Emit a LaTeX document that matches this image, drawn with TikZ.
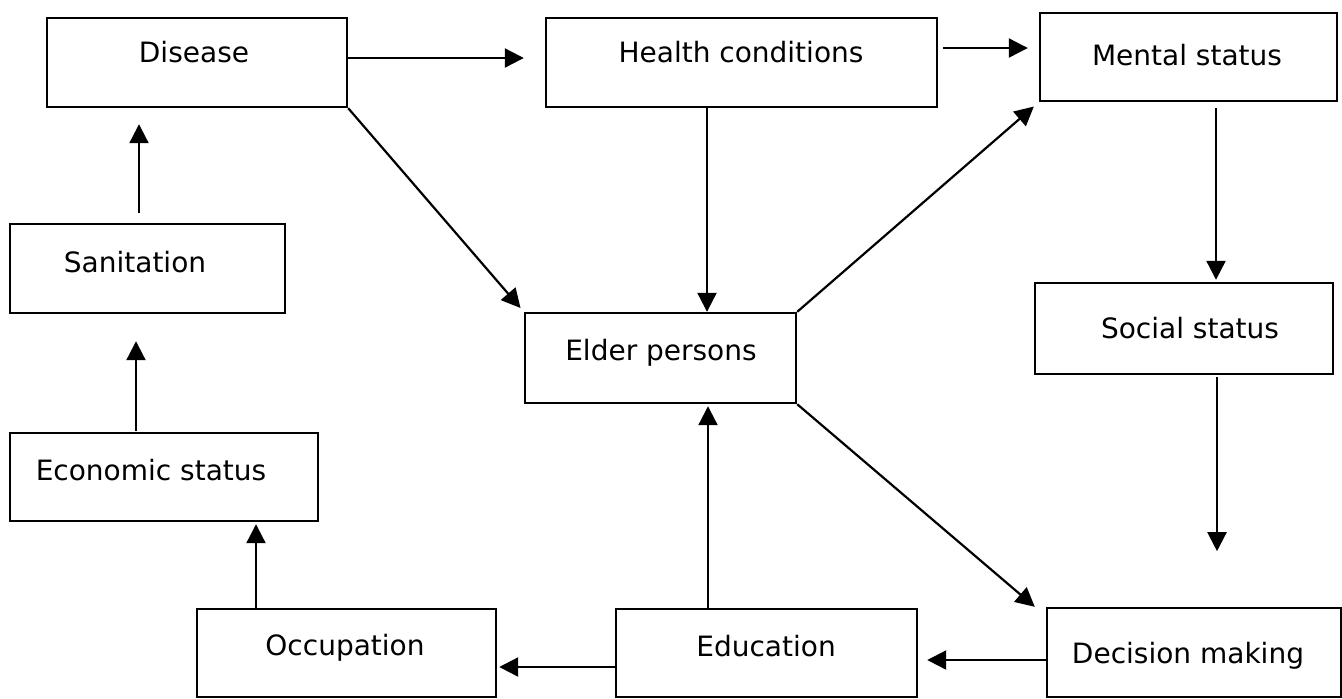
\documentclass[tikz,border=0pt]{standalone}
\usepackage{fontspec}
\setmainfont{DejaVu Sans}
\usetikzlibrary{arrows.meta,calc}
\begin{document}
\begin{tikzpicture}[x=0.5pt,y=-0.5pt,
  box/.style={draw=black,line width=1.2pt,rectangle,inner sep=0pt},
  lbl/.style={anchor=base,inner sep=0pt,font=\fontsize{14pt}{16pt}\selectfont},
  arr/.style={draw=black,line width=1.1pt,-{Triangle[length=9.5pt,width=9.5pt]}}]
\useasboundingbox (0,0) rectangle (1342,698);
% boxes
\node[box,minimum width=150pt,minimum height=44.5pt] (disease) at (197,62.5) {};
\node[box,minimum width=195.5pt,minimum height=44.5pt] (health) at (741.5,62.5) {};
\node[box,minimum width=148.5pt,minimum height=44pt] (mental) at (1188.5,57) {};
\node[box,minimum width=137.5pt,minimum height=44.5pt] (sanitation) at (147.5,268.5) {};
\node[box,minimum width=135.5pt,minimum height=45pt] (elder) at (660.5,358) {};
\node[box,minimum width=149pt,minimum height=45.5pt] (social) at (1184,328.5) {};
\node[box,minimum width=154pt,minimum height=44pt] (economic) at (164,477) {};
\node[box,minimum width=149.5pt,minimum height=44pt] (occupation) at (346.5,653) {};
\node[box,minimum width=150.5pt,minimum height=44pt] (education) at (766.5,653) {};
\node[box,minimum width=147pt,minimum height=44.5pt] (decision) at (1194,652.5) {};
% labels
\node[lbl] (diseaseT) at (194,62.5) {Disease};
\node[lbl] (healthT) at (741,62.5) {Health conditions};
\node[lbl] (mentalT) at (1187,65) {Mental status};
\node[lbl] (sanitationT) at (135,272) {Sanitation};
\node[lbl] (elderT) at (661,360) {Elder persons};
\node[lbl] (socialT) at (1190,338) {Social status};
\node[lbl] (economicT) at (151,480) {Economic status};
\node[lbl] (occupationT) at (345,655) {Occupation};
\node[lbl] (educationT) at (766,656) {Education};
\node[lbl] (decisionT) at (1188,663) {Decision making};
% connectors
\draw[arr] ($(disease.east)+(0,-4.5)$) -- ($(health.west)+(-21,-4.5)$);
\draw[arr] ($(health.east)+(5,-14.5)$) -- ($(mental.west)+(-11,-9)$);
\draw[arr,shorten >=2.5pt] (disease.south east) -- (elder.north west);
\draw[arr] ($(health.south)+(-34.5,0)$) -- ($(elder.north)+(46.5,0)$);
\draw[arr,shorten >=3.3pt] (elder.north east) -- (mental.south west);
\draw[arr] ($(mental.south)+(27.5,6)$) -- ($(social.north)+(32,-2)$);
\coordinate (socend) at ($(social.south)+(33,176)$);
\draw[arr] ($(social.south)+(33,2)$) -- (socend);
\draw[arr] (elder.south east) -- ($(decision.north west)+(-11,0)$);
\draw[arr] ($(decision.west)+(0,7.5)$) -- ($(education.east)+(9,7)$);
\draw[arr] ($(education.west)+(0,14)$) -- ($(occupation.east)+(2,14)$);
\draw[arr] ($(education.north)+(-58.5,0)$) -- ($(elder.south)+(47.5,2)$);
\draw[arr] ($(occupation.north)+(-90.5,0)$) -- ($(economic.south)+(92,2)$);
\draw[arr] ($(economic.north)+(-28,-1)$) -- ($(sanitation.south)+(-11.5,27)$);
\draw[arr] ($(sanitation.north)+(-8.5,-10)$) -- ($(disease.south)+(-58,16)$);
\end{tikzpicture}
\end{document}
